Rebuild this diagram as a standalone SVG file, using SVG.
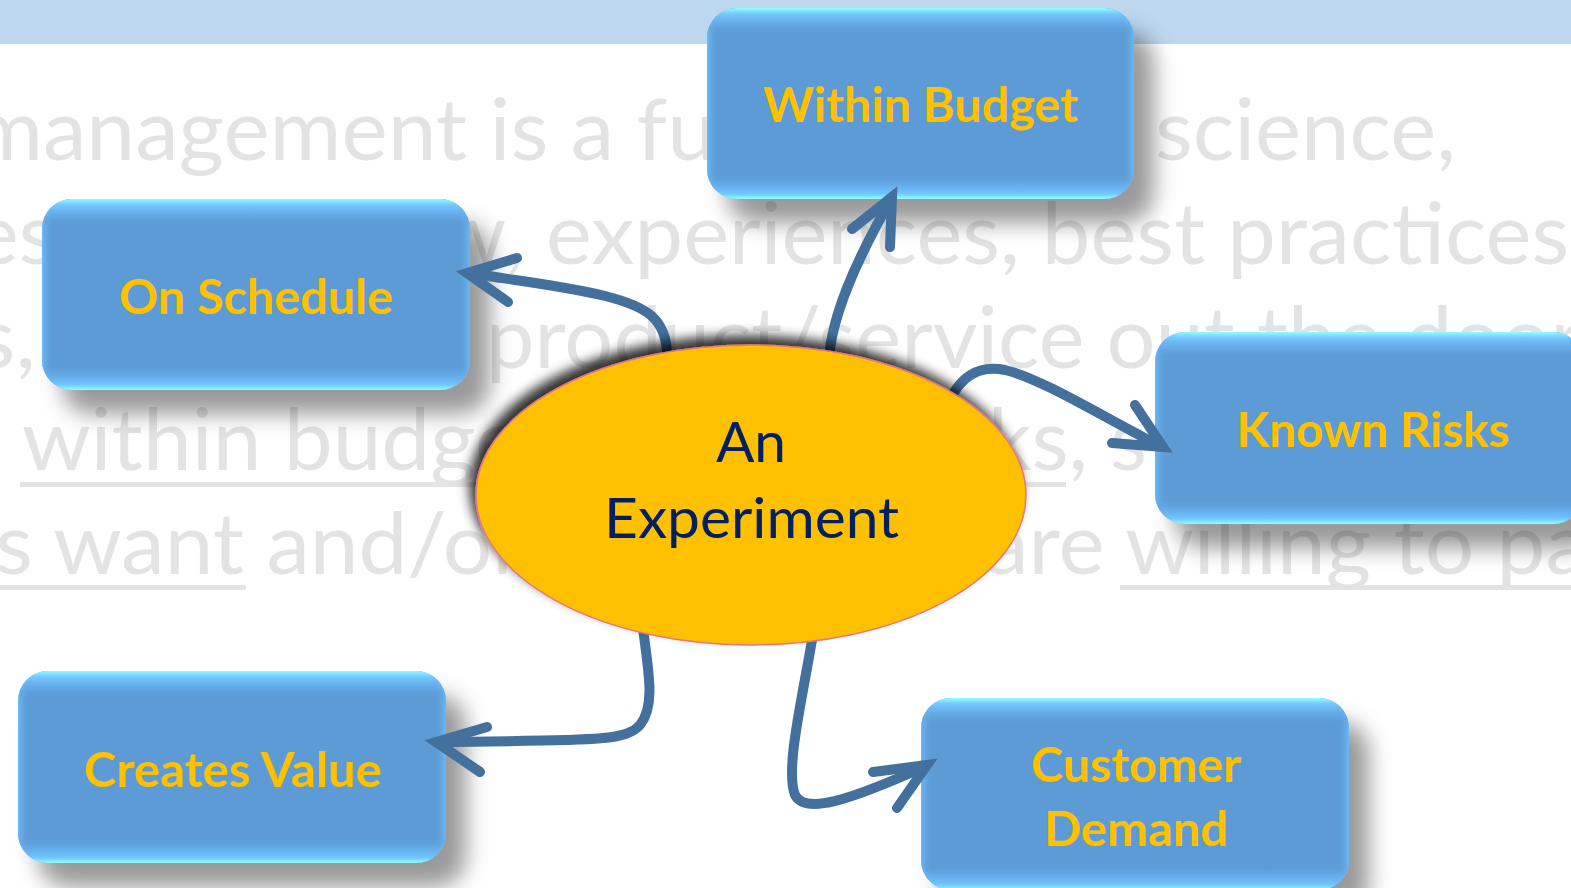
<svg xmlns="http://www.w3.org/2000/svg" width="1571" height="888" viewBox="0 0 1571 888">
  <defs>
    <style>
      .bg { font-family: Lato, "Open Sans", sans-serif; font-size: 86px; fill: #E3E3E3; }
      .ul { fill: #E3E3E3; }
      .box { fill: #5B9BD5; }
      .lbl { font-family: Lato, "Open Sans", sans-serif; font-weight: bold; font-size: 47px; fill: #FFC000; text-anchor: middle; }
      .etxt { font-family: Lato, "Open Sans", sans-serif; font-size: 56px; fill: #002060; text-anchor: middle; }
      .conn { fill: none; stroke: #43709D; stroke-width: 10; stroke-linecap: round; stroke-linejoin: round; }
      .head { fill: none; stroke: #43709D; stroke-width: 10; stroke-linecap: round; stroke-linejoin: miter; stroke-miterlimit: 10; }
    </style>
    <linearGradient id="gv" x1="0" y1="0" x2="0" y2="1">
      <stop offset="0" stop-color="#8EFFFF" stop-opacity="1"/>
      <stop offset="0.03" stop-color="#74C8FF" stop-opacity="1"/>
      <stop offset="0.09" stop-color="#66B0F0" stop-opacity="0.6"/>
      <stop offset="0.14" stop-color="#5B9BD5" stop-opacity="0"/>
      <stop offset="0.86" stop-color="#5B9BD5" stop-opacity="0"/>
      <stop offset="0.92" stop-color="#68B4F2" stop-opacity="0.6"/>
      <stop offset="0.97" stop-color="#6FC4FF" stop-opacity="1"/>
      <stop offset="1" stop-color="#8EFFFF" stop-opacity="1"/>
    </linearGradient>
    <linearGradient id="gh" x1="0" y1="0" x2="1" y2="0">
      <stop offset="0" stop-color="#70BFFF" stop-opacity="0.8"/>
      <stop offset="0.03" stop-color="#5B9BD5" stop-opacity="0"/>
      <stop offset="0.97" stop-color="#5B9BD5" stop-opacity="0"/>
      <stop offset="1" stop-color="#70BFFF" stop-opacity="0.8"/>
    </linearGradient>
    <filter id="shadow" x="-20%" y="-20%" width="150%" height="160%">
      <feDropShadow dx="20" dy="24" stdDeviation="11" flood-color="#000" flood-opacity="0.4"/>
    </filter>
    <filter id="eshadow" x="-20%" y="-30%" width="140%" height="160%">
      <feDropShadow dx="-6" dy="-9" stdDeviation="6" flood-color="#000" flood-opacity="0.8"/>
    </filter>
  </defs>

  <rect x="0" y="0" width="1571" height="888" fill="#FFFFFF"/>
  <rect x="0" y="0" width="1571" height="44" fill="#BDD7EE"/>

  <g id="background-text">
    <text class="bg" x="-29" y="160" textLength="745" lengthAdjust="spacingAndGlyphs">management is a fu</text>
    <text class="bg" x="1155" y="160" textLength="301" lengthAdjust="spacingAndGlyphs">science,</text>
    <text class="bg" x="-27" y="264" textLength="83" lengthAdjust="spacingAndGlyphs">es</text>
    <text class="bg" x="438" y="264" textLength="1131" lengthAdjust="spacingAndGlyphs">w, experiences, best practices</text>
    <text class="bg" x="-24" y="368" textLength="60" lengthAdjust="spacingAndGlyphs">s,</text>
    <text class="bg" x="486" y="368" textLength="1096" lengthAdjust="spacingAndGlyphs">product/service out the door</text>
    <text class="bg" x="22" y="470" textLength="550" lengthAdjust="spacingAndGlyphs">within budget,</text>
    <text class="bg" x="988" y="470" textLength="159" lengthAdjust="spacingAndGlyphs">ks, s</text>
    <text class="bg" x="-5" y="574" textLength="529" lengthAdjust="spacingAndGlyphs">s want and/or</text>
    <text class="bg" x="985" y="574" textLength="604" lengthAdjust="spacingAndGlyphs">are willing to pa</text>
    <rect class="ul" x="20" y="482" width="540" height="5"/>
    <rect class="ul" x="970" y="482" width="96" height="5"/>
    <rect class="ul" x="0" y="585" width="246" height="5"/>
    <rect class="ul" x="1120" y="585" width="451" height="5"/>
  </g>

  <g id="node-within-budget">
    <g filter="url(#shadow)"><rect class="box" x="707" y="8" width="427" height="191" rx="30"/></g>
    <rect x="707" y="8" width="427" height="191" rx="30" fill="url(#gh)"/>
    <rect x="707" y="8" width="427" height="191" rx="30" fill="url(#gv)"/>
    <text class="lbl" x="920.5" y="122" textLength="315" lengthAdjust="spacingAndGlyphs">Within Budget</text>
  </g>

  <g id="node-on-schedule">
    <g filter="url(#shadow)"><rect class="box" x="42" y="199" width="428" height="191" rx="30"/></g>
    <rect x="42" y="199" width="428" height="191" rx="30" fill="url(#gh)"/>
    <rect x="42" y="199" width="428" height="191" rx="30" fill="url(#gv)"/>
    <text class="lbl" x="256" y="314" textLength="274" lengthAdjust="spacingAndGlyphs">On Schedule</text>
  </g>

  <g id="node-known-risks">
    <g filter="url(#shadow)"><rect class="box" x="1155" y="332" width="428" height="192" rx="30"/></g>
    <rect x="1155" y="332" width="428" height="192" rx="30" fill="url(#gh)"/>
    <rect x="1155" y="332" width="428" height="192" rx="30" fill="url(#gv)"/>
    <text class="lbl" x="1373" y="447" textLength="273" lengthAdjust="spacingAndGlyphs">Known Risks</text>
  </g>

  <g id="node-creates-value">
    <g filter="url(#shadow)"><rect class="box" x="18" y="671" width="428" height="192" rx="30"/></g>
    <rect x="18" y="671" width="428" height="192" rx="30" fill="url(#gh)"/>
    <rect x="18" y="671" width="428" height="192" rx="30" fill="url(#gv)"/>
    <text class="lbl" x="233" y="787" textLength="298" lengthAdjust="spacingAndGlyphs">Creates Value</text>
  </g>

  <g id="node-customer-demand">
    <g filter="url(#shadow)"><rect class="box" x="921" y="698" width="428" height="192" rx="30"/></g>
    <rect x="921" y="698" width="428" height="192" rx="30" fill="url(#gh)"/>
    <rect x="921" y="698" width="428" height="192" rx="30" fill="url(#gv)"/>
    <text class="lbl" x="1136" y="782" textLength="210" lengthAdjust="spacingAndGlyphs">Customer</text>
    <text class="lbl" x="1136" y="846" textLength="184" lengthAdjust="spacingAndGlyphs">Demand</text>
  </g>

  <g id="connectors">
    <path class="conn" d="M 667 358 C 668 318, 645 306, 605 296 C 560 285, 510 280, 470 273"/>
    <polyline class="head" points="517,258 467,273 508,302"/>
    <path class="conn" d="M 829 358 C 832 318, 852 268, 890 201"/>
    <polyline class="head" points="852,229 892,197 890,247"/>
    <path class="conn" d="M 946 410 C 958 375, 980 365, 1005 370 C 1040 378, 1100 415, 1158 445"/>
    <polyline class="head" points="1135,405 1163,447 1112,443"/>
    <path class="conn" d="M 643 628 C 648 670, 656 705, 640 725 C 625 742, 590 740, 440 742"/>
    <polyline class="head" points="487,727 436,742 480,772"/>
    <path class="conn" d="M 812 640 C 802 700, 785 770, 795 795 C 805 815, 850 800, 924 767"/>
    <polyline class="head" points="873,772 927,765 897,808"/>
  </g>

  <g id="node-experiment">
    <ellipse cx="751" cy="495" rx="275" ry="150" fill="#FFC000" stroke="#E8767C" stroke-width="1.5" filter="url(#eshadow)"/>
    <text class="etxt" x="751" y="462" textLength="70" lengthAdjust="spacingAndGlyphs">An</text>
    <text class="etxt" x="751.5" y="538" textLength="295" lengthAdjust="spacingAndGlyphs">Experiment</text>
  </g>
</svg>
